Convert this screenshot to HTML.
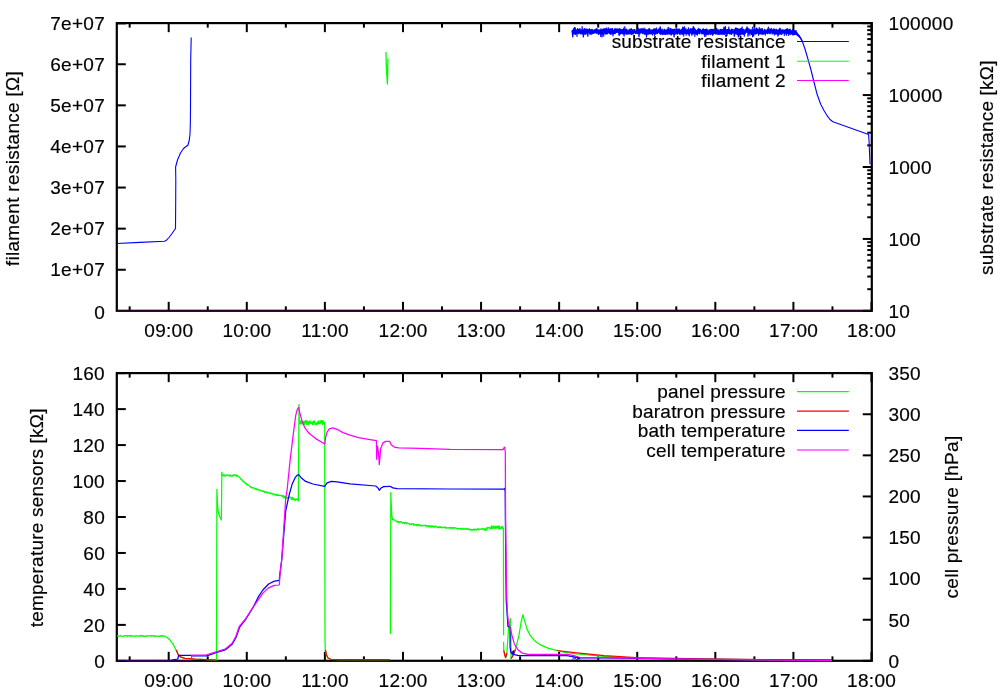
<!DOCTYPE html>
<html lang="en"><head><meta charset="utf-8"><title>measurement log</title>
<style>
html,body{margin:0;padding:0;background:#fff;}
body{width:1000px;height:700px;overflow:hidden;}
svg{display:block;}
text{font-family:"Liberation Sans",Arial,Helvetica,sans-serif;font-size:19.00px;fill:#000;stroke:#000;stroke-width:0.18px;letter-spacing:0.30px;}
.ax{stroke:#000;stroke-width:2;fill:none;stroke-linecap:butt;}
.fr{stroke:#000;stroke-width:2.2;fill:none;stroke-linejoin:miter;}
.c{fill:none;stroke-width:1.25;stroke-linejoin:round;stroke-linecap:butt;}
.g{stroke:#00ff00;}.b{stroke:#0000ff;}.m{stroke:#ff00ff;}.r{stroke:#ff0000;}
</style></head><body>
<svg width="1000" height="700" viewBox="0 0 1000 700">
<rect width="1000" height="700" fill="#fff"/>
<rect class="fr" x="116.8" y="23.1" width="755.0" height="287.7"/>
<line class="ax" x1="168.70" y1="310.85" x2="168.70" y2="301.85"/>
<line class="ax" x1="168.70" y1="23.15" x2="168.70" y2="32.15"/>
<line class="ax" x1="246.79" y1="310.85" x2="246.79" y2="301.85"/>
<line class="ax" x1="246.79" y1="23.15" x2="246.79" y2="32.15"/>
<line class="ax" x1="324.88" y1="310.85" x2="324.88" y2="301.85"/>
<line class="ax" x1="324.88" y1="23.15" x2="324.88" y2="32.15"/>
<line class="ax" x1="402.97" y1="310.85" x2="402.97" y2="301.85"/>
<line class="ax" x1="402.97" y1="23.15" x2="402.97" y2="32.15"/>
<line class="ax" x1="481.06" y1="310.85" x2="481.06" y2="301.85"/>
<line class="ax" x1="481.06" y1="23.15" x2="481.06" y2="32.15"/>
<line class="ax" x1="559.14" y1="310.85" x2="559.14" y2="301.85"/>
<line class="ax" x1="559.14" y1="23.15" x2="559.14" y2="32.15"/>
<line class="ax" x1="637.23" y1="310.85" x2="637.23" y2="301.85"/>
<line class="ax" x1="637.23" y1="23.15" x2="637.23" y2="32.15"/>
<line class="ax" x1="715.32" y1="310.85" x2="715.32" y2="301.85"/>
<line class="ax" x1="715.32" y1="23.15" x2="715.32" y2="32.15"/>
<line class="ax" x1="793.41" y1="310.85" x2="793.41" y2="301.85"/>
<line class="ax" x1="793.41" y1="23.15" x2="793.41" y2="32.15"/>
<line class="ax" x1="871.50" y1="310.85" x2="871.50" y2="301.85"/>
<line class="ax" x1="871.50" y1="23.15" x2="871.50" y2="32.15"/>
<line class="ax" x1="129.66" y1="310.85" x2="129.66" y2="306.35"/>
<line class="ax" x1="129.66" y1="23.15" x2="129.66" y2="27.65"/>
<line class="ax" x1="207.74" y1="310.85" x2="207.74" y2="306.35"/>
<line class="ax" x1="207.74" y1="23.15" x2="207.74" y2="27.65"/>
<line class="ax" x1="285.83" y1="310.85" x2="285.83" y2="306.35"/>
<line class="ax" x1="285.83" y1="23.15" x2="285.83" y2="27.65"/>
<line class="ax" x1="363.92" y1="310.85" x2="363.92" y2="306.35"/>
<line class="ax" x1="363.92" y1="23.15" x2="363.92" y2="27.65"/>
<line class="ax" x1="442.01" y1="310.85" x2="442.01" y2="306.35"/>
<line class="ax" x1="442.01" y1="23.15" x2="442.01" y2="27.65"/>
<line class="ax" x1="520.10" y1="310.85" x2="520.10" y2="306.35"/>
<line class="ax" x1="520.10" y1="23.15" x2="520.10" y2="27.65"/>
<line class="ax" x1="598.19" y1="310.85" x2="598.19" y2="306.35"/>
<line class="ax" x1="598.19" y1="23.15" x2="598.19" y2="27.65"/>
<line class="ax" x1="676.28" y1="310.85" x2="676.28" y2="306.35"/>
<line class="ax" x1="676.28" y1="23.15" x2="676.28" y2="27.65"/>
<line class="ax" x1="754.37" y1="310.85" x2="754.37" y2="306.35"/>
<line class="ax" x1="754.37" y1="23.15" x2="754.37" y2="27.65"/>
<line class="ax" x1="832.46" y1="310.85" x2="832.46" y2="306.35"/>
<line class="ax" x1="832.46" y1="23.15" x2="832.46" y2="27.65"/>
<rect class="fr" x="116.8" y="373.1" width="755.0" height="287.7"/>
<line class="ax" x1="168.70" y1="660.85" x2="168.70" y2="651.85"/>
<line class="ax" x1="168.70" y1="373.15" x2="168.70" y2="382.15"/>
<line class="ax" x1="246.79" y1="660.85" x2="246.79" y2="651.85"/>
<line class="ax" x1="246.79" y1="373.15" x2="246.79" y2="382.15"/>
<line class="ax" x1="324.88" y1="660.85" x2="324.88" y2="651.85"/>
<line class="ax" x1="324.88" y1="373.15" x2="324.88" y2="382.15"/>
<line class="ax" x1="402.97" y1="660.85" x2="402.97" y2="651.85"/>
<line class="ax" x1="402.97" y1="373.15" x2="402.97" y2="382.15"/>
<line class="ax" x1="481.06" y1="660.85" x2="481.06" y2="651.85"/>
<line class="ax" x1="481.06" y1="373.15" x2="481.06" y2="382.15"/>
<line class="ax" x1="559.14" y1="660.85" x2="559.14" y2="651.85"/>
<line class="ax" x1="559.14" y1="373.15" x2="559.14" y2="382.15"/>
<line class="ax" x1="637.23" y1="660.85" x2="637.23" y2="651.85"/>
<line class="ax" x1="637.23" y1="373.15" x2="637.23" y2="382.15"/>
<line class="ax" x1="715.32" y1="660.85" x2="715.32" y2="651.85"/>
<line class="ax" x1="715.32" y1="373.15" x2="715.32" y2="382.15"/>
<line class="ax" x1="793.41" y1="660.85" x2="793.41" y2="651.85"/>
<line class="ax" x1="793.41" y1="373.15" x2="793.41" y2="382.15"/>
<line class="ax" x1="871.50" y1="660.85" x2="871.50" y2="651.85"/>
<line class="ax" x1="871.50" y1="373.15" x2="871.50" y2="382.15"/>
<line class="ax" x1="129.66" y1="660.85" x2="129.66" y2="656.35"/>
<line class="ax" x1="129.66" y1="373.15" x2="129.66" y2="377.65"/>
<line class="ax" x1="207.74" y1="660.85" x2="207.74" y2="656.35"/>
<line class="ax" x1="207.74" y1="373.15" x2="207.74" y2="377.65"/>
<line class="ax" x1="285.83" y1="660.85" x2="285.83" y2="656.35"/>
<line class="ax" x1="285.83" y1="373.15" x2="285.83" y2="377.65"/>
<line class="ax" x1="363.92" y1="660.85" x2="363.92" y2="656.35"/>
<line class="ax" x1="363.92" y1="373.15" x2="363.92" y2="377.65"/>
<line class="ax" x1="442.01" y1="660.85" x2="442.01" y2="656.35"/>
<line class="ax" x1="442.01" y1="373.15" x2="442.01" y2="377.65"/>
<line class="ax" x1="520.10" y1="660.85" x2="520.10" y2="656.35"/>
<line class="ax" x1="520.10" y1="373.15" x2="520.10" y2="377.65"/>
<line class="ax" x1="598.19" y1="660.85" x2="598.19" y2="656.35"/>
<line class="ax" x1="598.19" y1="373.15" x2="598.19" y2="377.65"/>
<line class="ax" x1="676.28" y1="660.85" x2="676.28" y2="656.35"/>
<line class="ax" x1="676.28" y1="373.15" x2="676.28" y2="377.65"/>
<line class="ax" x1="754.37" y1="660.85" x2="754.37" y2="656.35"/>
<line class="ax" x1="754.37" y1="373.15" x2="754.37" y2="377.65"/>
<line class="ax" x1="832.46" y1="660.85" x2="832.46" y2="656.35"/>
<line class="ax" x1="832.46" y1="373.15" x2="832.46" y2="377.65"/>
<text x="168.8" y="337.0" text-anchor="middle">09:00</text>
<text x="246.9" y="337.0" text-anchor="middle">10:00</text>
<text x="325.0" y="337.0" text-anchor="middle">11:00</text>
<text x="403.1" y="337.0" text-anchor="middle">12:00</text>
<text x="481.2" y="337.0" text-anchor="middle">13:00</text>
<text x="559.3" y="337.0" text-anchor="middle">14:00</text>
<text x="637.4" y="337.0" text-anchor="middle">15:00</text>
<text x="715.5" y="337.0" text-anchor="middle">16:00</text>
<text x="793.6" y="337.0" text-anchor="middle">17:00</text>
<text x="871.6" y="337.0" text-anchor="middle">18:00</text>
<text x="168.8" y="686.8" text-anchor="middle">09:00</text>
<text x="246.9" y="686.8" text-anchor="middle">10:00</text>
<text x="325.0" y="686.8" text-anchor="middle">11:00</text>
<text x="403.1" y="686.8" text-anchor="middle">12:00</text>
<text x="481.2" y="686.8" text-anchor="middle">13:00</text>
<text x="559.3" y="686.8" text-anchor="middle">14:00</text>
<text x="637.4" y="686.8" text-anchor="middle">15:00</text>
<text x="715.5" y="686.8" text-anchor="middle">16:00</text>
<text x="793.6" y="686.8" text-anchor="middle">17:00</text>
<text x="871.6" y="686.8" text-anchor="middle">18:00</text>
<text x="105.1" y="318.6" text-anchor="end">0</text>
<line class="ax" x1="116.80" y1="269.75" x2="125.80" y2="269.75"/>
<text x="105.1" y="276.4" text-anchor="end">1e+07</text>
<line class="ax" x1="116.80" y1="228.65" x2="125.80" y2="228.65"/>
<text x="105.1" y="235.3" text-anchor="end">2e+07</text>
<line class="ax" x1="116.80" y1="187.55" x2="125.80" y2="187.55"/>
<text x="105.1" y="194.2" text-anchor="end">3e+07</text>
<line class="ax" x1="116.80" y1="146.45" x2="125.80" y2="146.45"/>
<text x="105.1" y="153.1" text-anchor="end">4e+07</text>
<line class="ax" x1="116.80" y1="105.35" x2="125.80" y2="105.35"/>
<text x="105.1" y="112.0" text-anchor="end">5e+07</text>
<line class="ax" x1="116.80" y1="64.25" x2="125.80" y2="64.25"/>
<text x="105.1" y="70.9" text-anchor="end">6e+07</text>
<line class="ax" x1="116.80" y1="23.40" x2="125.80" y2="23.40"/>
<text x="105.1" y="29.8" text-anchor="end">7e+07</text>
<line class="ax" x1="871.75" y1="310.85" x2="862.75" y2="310.85"/>
<text x="888.4" y="317.7">10</text>
<line class="ax" x1="871.75" y1="289.20" x2="867.25" y2="289.20"/>
<line class="ax" x1="871.75" y1="276.53" x2="867.25" y2="276.53"/>
<line class="ax" x1="871.75" y1="267.55" x2="867.25" y2="267.55"/>
<line class="ax" x1="871.75" y1="260.58" x2="867.25" y2="260.58"/>
<line class="ax" x1="871.75" y1="254.88" x2="867.25" y2="254.88"/>
<line class="ax" x1="871.75" y1="250.07" x2="867.25" y2="250.07"/>
<line class="ax" x1="871.75" y1="245.90" x2="867.25" y2="245.90"/>
<line class="ax" x1="871.75" y1="242.22" x2="867.25" y2="242.22"/>
<line class="ax" x1="871.75" y1="238.93" x2="862.75" y2="238.93"/>
<text x="888.4" y="245.7">100</text>
<line class="ax" x1="871.75" y1="217.27" x2="867.25" y2="217.27"/>
<line class="ax" x1="871.75" y1="204.61" x2="867.25" y2="204.61"/>
<line class="ax" x1="871.75" y1="195.62" x2="867.25" y2="195.62"/>
<line class="ax" x1="871.75" y1="188.65" x2="867.25" y2="188.65"/>
<line class="ax" x1="871.75" y1="182.96" x2="867.25" y2="182.96"/>
<line class="ax" x1="871.75" y1="178.14" x2="867.25" y2="178.14"/>
<line class="ax" x1="871.75" y1="173.97" x2="867.25" y2="173.97"/>
<line class="ax" x1="871.75" y1="170.29" x2="867.25" y2="170.29"/>
<line class="ax" x1="871.75" y1="167.00" x2="862.75" y2="167.00"/>
<text x="888.4" y="173.8">1000</text>
<line class="ax" x1="871.75" y1="145.35" x2="867.25" y2="145.35"/>
<line class="ax" x1="871.75" y1="132.68" x2="867.25" y2="132.68"/>
<line class="ax" x1="871.75" y1="123.70" x2="867.25" y2="123.70"/>
<line class="ax" x1="871.75" y1="116.73" x2="867.25" y2="116.73"/>
<line class="ax" x1="871.75" y1="111.03" x2="867.25" y2="111.03"/>
<line class="ax" x1="871.75" y1="106.22" x2="867.25" y2="106.22"/>
<line class="ax" x1="871.75" y1="102.05" x2="867.25" y2="102.05"/>
<line class="ax" x1="871.75" y1="98.37" x2="867.25" y2="98.37"/>
<line class="ax" x1="871.75" y1="95.07" x2="862.75" y2="95.07"/>
<text x="888.4" y="101.9">10000</text>
<line class="ax" x1="871.75" y1="73.42" x2="867.25" y2="73.42"/>
<line class="ax" x1="871.75" y1="60.76" x2="867.25" y2="60.76"/>
<line class="ax" x1="871.75" y1="51.77" x2="867.25" y2="51.77"/>
<line class="ax" x1="871.75" y1="44.80" x2="867.25" y2="44.80"/>
<line class="ax" x1="871.75" y1="39.11" x2="867.25" y2="39.11"/>
<line class="ax" x1="871.75" y1="34.29" x2="867.25" y2="34.29"/>
<line class="ax" x1="871.75" y1="30.12" x2="867.25" y2="30.12"/>
<line class="ax" x1="871.75" y1="26.44" x2="867.25" y2="26.44"/>
<line class="ax" x1="871.75" y1="23.15" x2="862.75" y2="23.15"/>
<text x="888.4" y="29.9">100000</text>
<line class="ax" x1="116.80" y1="660.85" x2="125.80" y2="660.85"/>
<text x="105.0" y="667.6" text-anchor="end">0</text>
<line class="ax" x1="116.80" y1="624.89" x2="125.80" y2="624.89"/>
<text x="105.0" y="631.7" text-anchor="end">20</text>
<line class="ax" x1="116.80" y1="588.92" x2="125.80" y2="588.92"/>
<text x="105.0" y="595.7" text-anchor="end">40</text>
<line class="ax" x1="116.80" y1="552.96" x2="125.80" y2="552.96"/>
<text x="105.0" y="559.8" text-anchor="end">60</text>
<line class="ax" x1="116.80" y1="517.00" x2="125.80" y2="517.00"/>
<text x="105.0" y="523.8" text-anchor="end">80</text>
<line class="ax" x1="116.80" y1="481.04" x2="125.80" y2="481.04"/>
<text x="105.0" y="487.8" text-anchor="end">100</text>
<line class="ax" x1="116.80" y1="445.07" x2="125.80" y2="445.07"/>
<text x="105.0" y="451.9" text-anchor="end">120</text>
<line class="ax" x1="116.80" y1="409.11" x2="125.80" y2="409.11"/>
<text x="105.0" y="415.9" text-anchor="end">140</text>
<line class="ax" x1="116.80" y1="373.15" x2="125.80" y2="373.15"/>
<text x="105.0" y="379.9" text-anchor="end">160</text>
<line class="ax" x1="871.75" y1="660.85" x2="862.75" y2="660.85"/>
<text x="888.4" y="667.6">0</text>
<line class="ax" x1="871.75" y1="619.75" x2="862.75" y2="619.75"/>
<text x="888.4" y="626.5">50</text>
<line class="ax" x1="871.75" y1="578.65" x2="862.75" y2="578.65"/>
<text x="888.4" y="585.4">100</text>
<line class="ax" x1="871.75" y1="537.55" x2="862.75" y2="537.55"/>
<text x="888.4" y="544.3">150</text>
<line class="ax" x1="871.75" y1="496.45" x2="862.75" y2="496.45"/>
<text x="888.4" y="503.2">200</text>
<line class="ax" x1="871.75" y1="455.35" x2="862.75" y2="455.35"/>
<text x="888.4" y="462.2">250</text>
<line class="ax" x1="871.75" y1="414.25" x2="862.75" y2="414.25"/>
<text x="888.4" y="421.1">300</text>
<line class="ax" x1="871.75" y1="373.15" x2="862.75" y2="373.15"/>
<text x="888.4" y="379.9">350</text>
<polyline class="c b" style="stroke-width:1.1" points="117.0,243.5 140.0,242.4 164.5,241.2 166.5,240.2 169.0,237.5 172.0,233.5 175.5,228.5 175.7,200.0 175.8,180.0 175.6,167.0 177.5,160.0 180.5,153.0 183.5,148.5 188.0,145.0 189.3,140.0 190.0,134.0 190.3,125.0 190.5,110.0 190.7,60.0 191.2,37.5"/>
<polyline class="c m" style="opacity:0.15" points="117.5,310.3 871.0,310.3"/>
<polyline class="c g" style="stroke-width:1.3" points="385.9,52.0 386.2,62.0 386.7,74.0 387.4,84.0 387.7,70.0 387.9,58.5"/>
<polyline class="c b" style="stroke-width:1.25" points="572.0,32.1 572.3,30.5 572.5,34.4 572.8,36.8 573.1,30.0 573.3,30.6 573.6,33.8 573.9,28.7 574.2,31.1 574.4,32.0 574.7,28.6 575.0,27.7 575.2,31.8 575.5,34.2 575.8,33.3 576.0,31.1 576.3,33.3 576.6,33.4 576.9,32.3 577.1,29.4 577.4,32.1 577.7,28.7 577.9,29.5 578.2,31.0 578.5,29.6 578.7,30.2 579.0,30.0 579.3,32.1 579.6,32.4 579.8,28.7 580.1,29.0 580.4,31.4 580.6,32.1 580.9,31.7 581.2,32.9 581.4,30.1 581.7,33.1 582.0,31.8 582.3,30.1 582.5,33.9 582.8,30.5 583.1,29.1 583.3,36.9 583.6,33.8 583.9,30.8 584.1,33.0 584.4,30.5 584.7,28.8 585.0,34.4 585.2,31.8 585.5,29.4 585.8,34.0 586.0,31.5 586.3,32.5 586.6,29.5 586.8,32.4 587.1,29.3 587.4,29.5 587.7,34.4 587.9,36.1 588.2,29.6 588.5,31.7 588.7,30.4 589.0,31.3 589.3,31.0 589.5,28.9 589.8,31.3 590.1,34.3 590.4,33.8 590.6,30.0 590.9,32.4 591.2,30.5 591.4,29.5 591.7,32.9 592.0,33.6 592.2,29.4 592.5,33.5 592.8,32.6 593.1,30.9 593.3,33.0 593.6,32.1 593.9,30.7 594.1,30.2 594.4,32.6 594.7,30.6 594.9,29.6 595.2,29.4 595.5,29.9 595.8,30.5 596.0,29.6 596.3,28.6 596.6,32.2 596.8,31.5 597.1,32.9 597.4,32.0 597.6,31.8 597.9,32.3 598.2,33.5 598.5,33.8 598.7,34.0 599.0,33.7 599.3,31.7 599.5,30.0 599.8,30.1 600.1,33.9 600.3,33.7 600.6,32.7 600.9,28.9 601.2,32.2 601.4,30.1 601.7,34.3 602.0,36.9 602.2,34.3 602.5,34.3 602.8,31.6 603.0,29.6 603.3,31.1 603.6,31.1 603.9,29.8 604.1,33.6 604.4,31.6 604.7,30.5 604.9,29.0 605.2,32.4 605.5,28.7 605.7,33.9 606.0,32.1 606.3,33.6 606.6,30.9 606.8,30.7 607.1,29.6 607.4,31.1 607.6,31.7 607.9,29.2 608.2,29.4 608.4,29.6 608.7,29.0 609.0,30.7 609.3,29.0 609.5,30.4 609.8,33.6 610.1,31.4 610.3,32.4 610.6,31.9 610.9,34.3 611.1,32.2 611.4,33.1 611.7,30.9 612.0,28.9 612.2,33.5 612.5,28.6 612.8,33.3 613.0,35.8 613.3,31.0 613.6,31.6 613.8,31.2 614.1,32.4 614.4,33.3 614.7,30.6 614.9,28.8 615.2,30.0 615.5,31.9 615.7,28.8 616.0,30.2 616.3,29.4 616.5,29.1 616.8,32.2 617.1,29.0 617.4,32.1 617.6,31.5 617.9,28.9 618.2,29.2 618.4,30.0 618.7,33.7 619.0,33.7 619.2,35.4 619.5,34.2 619.8,28.6 620.1,31.7 620.3,34.0 620.6,29.7 620.9,30.4 621.1,32.4 621.4,33.3 621.7,29.7 621.9,30.9 622.2,29.5 622.5,33.9 622.8,33.3 623.0,32.8 623.3,29.9 623.6,29.6 623.8,30.5 624.1,36.0 624.4,32.4 624.6,33.1 624.9,31.4 625.2,29.4 625.5,32.1 625.7,31.2 626.0,34.3 626.3,29.4 626.5,29.7 626.8,29.2 627.1,33.9 627.3,31.5 627.6,33.4 627.9,32.9 628.2,33.1 628.4,30.5 628.7,33.6 629.0,33.4 629.2,33.3 629.5,29.9 629.8,33.2 630.0,29.0 630.3,32.3 630.6,33.3 630.9,30.4 631.1,31.5 631.4,31.0 631.7,30.7 631.9,32.1 632.2,33.8 632.5,29.8 632.7,30.7 633.0,32.9 633.3,32.7 633.6,33.6 633.8,30.8 634.1,31.2 634.4,30.4 634.6,29.7 634.9,32.1 635.2,31.9 635.4,31.5 635.7,31.7 636.0,33.5 636.3,33.1 636.5,31.9 636.8,33.1 637.1,30.2 637.3,32.8 637.6,32.3 637.9,31.7 638.1,31.3 638.4,31.9 638.7,30.8 639.0,36.6 639.2,33.1 639.5,33.3 639.8,29.2 640.0,33.6 640.3,29.6 640.6,32.2 640.8,30.3 641.1,28.6 641.4,30.9 641.7,31.3 641.9,31.0 642.2,28.8 642.5,31.4 642.7,28.8 643.0,29.3 643.3,32.6 643.5,32.8 643.8,33.0 644.1,34.1 644.4,30.3 644.6,34.0 644.9,31.3 645.2,29.8 645.4,33.1 645.7,29.2 646.0,31.9 646.2,31.0 646.5,37.0 646.8,31.3 647.1,31.9 647.3,34.1 647.6,30.8 647.9,33.8 648.1,34.1 648.4,29.7 648.7,29.0 648.9,32.9 649.2,31.0 649.5,28.7 649.8,30.4 650.0,34.0 650.3,31.6 650.6,32.4 650.8,30.4 651.1,32.4 651.4,32.9 651.6,33.7 651.9,31.0 652.2,33.5 652.5,34.9 652.7,32.3 653.0,33.3 653.3,30.3 653.5,31.3 653.8,28.8 654.1,29.5 654.3,31.4 654.6,32.4 654.9,32.7 655.2,30.2 655.4,29.1 655.7,34.2 656.0,31.6 656.2,32.2 656.5,30.0 656.8,31.9 657.0,32.4 657.3,31.2 657.6,30.9 657.9,31.3 658.1,29.6 658.4,30.0 658.7,31.3 658.9,29.3 659.2,33.0 659.5,31.4 659.7,30.5 660.0,31.3 660.3,26.8 660.6,34.2 660.8,33.3 661.1,30.4 661.4,30.0 661.6,30.2 661.9,34.1 662.2,29.0 662.4,33.9 662.7,34.5 663.0,32.4 663.3,34.0 663.5,32.0 663.8,33.8 664.1,34.1 664.3,30.7 664.6,30.6 664.9,33.9 665.1,30.9 665.4,34.3 665.7,34.1 666.0,33.9 666.2,34.0 666.5,33.3 666.8,30.7 667.0,30.7 667.3,34.0 667.6,34.1 667.8,31.7 668.1,33.4 668.4,33.6 668.7,32.0 668.9,32.7 669.2,29.8 669.5,34.0 669.7,30.5 670.0,34.1 670.3,30.6 670.5,31.0 670.8,28.7 671.1,29.7 671.4,34.1 671.6,30.3 671.9,33.6 672.2,31.9 672.4,33.8 672.7,30.5 673.0,33.9 673.2,29.4 673.5,34.2 673.8,31.2 674.1,36.9 674.3,34.3 674.6,33.7 674.9,32.0 675.1,34.0 675.4,32.7 675.7,33.3 675.9,33.2 676.2,28.2 676.5,30.1 676.8,29.3 677.0,33.5 677.3,34.2 677.6,30.0 677.8,32.3 678.1,28.9 678.4,31.0 678.6,31.0 678.9,29.7 679.2,32.7 679.5,31.9 679.7,34.3 680.0,31.8 680.3,32.2 680.5,30.0 680.8,34.2 681.1,33.3 681.3,29.9 681.6,29.9 681.9,29.6 682.2,28.7 682.4,34.3 682.7,34.0 683.0,29.7 683.2,30.1 683.5,27.7 683.8,33.4 684.0,33.3 684.3,29.5 684.6,28.8 684.9,31.9 685.1,33.0 685.4,32.5 685.7,30.9 685.9,28.6 686.2,32.7 686.5,30.0 686.7,31.6 687.0,32.4 687.3,33.5 687.6,31.2 687.8,30.8 688.1,31.3 688.4,34.1 688.6,34.0 688.9,30.7 689.2,35.8 689.4,32.4 689.7,32.6 690.0,30.7 690.3,31.2 690.5,29.6 690.8,33.2 691.1,29.0 691.3,32.2 691.6,31.6 691.9,31.3 692.1,33.9 692.4,28.8 692.7,33.4 693.0,31.7 693.2,26.9 693.5,30.0 693.8,30.5 694.0,30.0 694.3,28.1 694.6,31.9 694.8,31.8 695.1,31.4 695.4,29.4 695.7,32.8 695.9,33.9 696.2,30.4 696.5,31.0 696.7,34.3 697.0,32.5 697.3,34.0 697.5,32.7 697.8,30.8 698.1,30.5 698.4,28.9 698.6,29.2 698.9,28.3 699.2,30.8 699.4,31.5 699.7,30.4 700.0,30.7 700.2,30.7 700.5,30.9 700.8,32.1 701.1,31.8 701.3,30.5 701.6,31.5 701.9,33.9 702.1,33.9 702.4,33.1 702.7,29.5 702.9,30.7 703.2,28.9 703.5,33.3 703.8,30.6 704.0,30.2 704.3,30.7 704.6,34.5 704.8,31.0 705.1,30.6 705.4,33.6 705.6,30.0 705.9,36.0 706.2,30.8 706.5,30.3 706.7,30.7 707.0,34.0 707.3,30.0 707.5,32.3 707.8,31.8 708.1,33.7 708.3,34.7 708.6,34.3 708.9,32.4 709.2,31.3 709.4,31.7 709.7,33.6 710.0,31.2 710.2,29.7 710.5,34.2 710.8,33.2 711.0,30.8 711.3,29.5 711.6,31.9 711.9,30.5 712.1,34.0 712.4,30.4 712.7,32.9 712.9,31.2 713.2,29.3 713.5,34.1 713.7,29.7 714.0,30.7 714.3,31.9 714.6,32.7 714.8,32.0 715.1,31.8 715.4,33.0 715.6,33.8 715.9,31.8 716.2,30.6 716.4,33.8 716.7,29.5 717.0,29.0 717.3,33.3 717.5,33.5 717.8,32.1 718.1,31.2 718.3,34.4 718.6,33.3 718.9,29.6 719.1,29.9 719.4,31.8 719.7,34.3 720.0,31.9 720.2,34.0 720.5,33.1 720.8,34.0 721.0,30.5 721.3,33.6 721.6,34.2 721.8,29.4 722.1,31.8 722.4,31.4 722.7,30.0 722.9,34.3 723.2,32.5 723.5,28.7 723.7,32.1 724.0,27.2 724.3,34.1 724.5,31.5 724.8,31.5 725.1,29.5 725.4,26.6 725.6,30.1 725.9,32.4 726.2,33.6 726.4,29.8 726.7,32.2 727.0,31.2 727.2,31.5 727.5,32.0 727.8,29.4 728.1,30.9 728.3,33.5 728.6,29.5 728.9,29.3 729.1,30.2 729.4,30.3 729.7,33.8 729.9,31.5 730.2,31.4 730.5,31.4 730.8,30.8 731.0,30.0 731.3,34.4 731.6,30.8 731.8,32.4 732.1,33.8 732.4,31.0 732.6,31.2 732.9,32.3 733.2,32.6 733.5,32.6 733.7,32.1 734.0,33.2 734.3,36.3 734.5,35.3 734.8,29.2 735.1,29.7 735.3,33.5 735.6,28.4 735.9,27.9 736.2,34.3 736.4,32.5 736.7,28.6 737.0,33.3 737.2,29.8 737.5,28.9 737.8,29.8 738.0,34.4 738.3,36.9 738.6,34.3 738.9,28.8 739.1,30.7 739.4,29.3 739.7,34.4 739.9,33.4 740.2,29.1 740.5,28.7 740.7,34.0 741.0,30.9 741.3,30.6 741.6,28.7 741.8,34.2 742.1,27.0 742.4,34.1 742.6,29.2 742.9,29.6 743.2,29.6 743.4,31.6 743.7,34.3 744.0,30.7 744.3,33.4 744.5,33.9 744.8,31.5 745.1,30.2 745.3,32.5 745.6,29.4 745.9,31.7 746.1,28.7 746.4,31.3 746.7,31.8 747.0,26.8 747.2,27.4 747.5,29.9 747.8,31.1 748.0,36.2 748.3,32.9 748.6,29.9 748.8,28.7 749.1,32.0 749.4,30.6 749.7,31.5 749.9,35.2 750.2,32.1 750.5,32.9 750.7,30.4 751.0,31.2 751.3,29.8 751.5,31.9 751.8,34.3 752.1,31.7 752.4,31.3 752.6,36.7 752.9,30.1 753.2,30.6 753.4,32.9 753.7,35.9 754.0,33.5 754.2,33.4 754.5,30.9 754.8,31.7 755.1,31.0 755.3,34.0 755.6,29.3 755.9,30.2 756.1,29.3 756.4,33.6 756.7,31.2 756.9,28.7 757.2,29.7 757.5,31.5 757.8,32.9 758.0,33.3 758.3,29.7 758.6,31.4 758.8,30.7 759.1,33.9 759.4,31.3 759.6,33.5 759.9,33.3 760.2,29.7 760.5,29.1 760.7,29.0 761.0,29.1 761.3,34.0 761.5,28.9 761.8,32.1 762.1,33.0 762.3,28.7 762.6,34.1 762.9,32.6 763.2,32.0 763.4,31.0 763.7,34.1 764.0,32.3 764.2,32.1 764.5,30.2 764.8,30.1 765.0,30.6 765.3,33.7 765.6,33.5 765.9,33.2 766.1,31.0 766.4,30.4 766.7,32.3 766.9,30.8 767.2,30.5 767.5,28.9 767.7,33.6 768.0,29.8 768.3,30.7 768.6,29.6 768.8,32.3 769.1,33.2 769.4,31.8 769.6,32.8 769.9,28.7 770.2,29.7 770.4,30.1 770.7,29.8 771.0,32.1 771.3,32.0 771.5,28.6 771.8,30.9 772.1,34.0 772.3,31.2 772.6,33.1 772.9,31.6 773.1,31.1 773.4,32.9 773.7,29.0 774.0,33.5 774.2,33.0 774.5,33.4 774.8,29.2 775.0,32.3 775.3,30.5 775.6,31.7 775.8,34.0 776.1,31.5 776.4,31.6 776.7,32.5 776.9,32.9 777.2,34.3 777.5,34.3 777.7,34.1 778.0,36.1 778.3,34.8 778.5,31.4 778.8,29.6 779.1,31.3 779.4,29.5 779.6,29.0 779.9,34.3 780.2,33.9 780.4,32.1 780.7,32.0 781.0,33.1 781.2,31.3 781.5,30.4 781.8,32.2 782.1,29.3 782.3,32.6 782.6,31.6 782.9,32.9 783.1,31.6 783.4,31.4 783.7,32.1 783.9,30.2 784.2,32.0 784.5,30.6 784.8,30.4 785.0,30.0 785.3,31.3 785.6,30.0 785.8,31.5 786.1,33.3 786.4,35.1 786.6,32.1 786.9,30.0 787.2,29.3 787.5,28.7 787.7,33.5 788.0,29.8 788.3,31.1 788.5,33.4 788.8,30.0 789.1,31.7 789.3,32.7 789.6,30.7 789.9,29.2 790.2,34.4 790.4,29.6 790.7,31.6 791.0,31.2 791.2,32.2 791.5,31.0 791.8,32.8 792.0,34.0 792.3,32.1 792.6,29.9 792.9,35.0 793.1,30.1 793.4,32.4 793.7,34.7 793.9,34.8 794.2,32.9 794.5,32.2 794.7,31.4 795.0,31.9 795.3,33.0 795.6,32.9 795.8,31.2 796.1,32.5 796.4,33.4 796.6,33.6 796.9,32.7 797.2,33.5 797.4,33.7 797.7,35.5 798.0,35.0 798.3,36.0 798.5,36.1 798.8,36.3 799.1,36.8 799.3,36.0 799.6,37.1 799.9,36.8 800.1,37.6 800.4,37.9 800.7,38.3 801.0,38.9 801.2,39.3 801.5,39.8 801.8,40.4 802.0,41.0 802.3,41.6"/>
<polyline class="c b" style="stroke-width:1.25" points="572.1,33.3 572.4,32.4 572.7,30.8 573.0,31.7 573.3,32.6 573.6,32.2 574.0,31.6 574.3,30.5 574.6,33.9 574.9,31.3 575.2,29.9 575.5,34.3 575.8,30.8 576.1,32.9 576.4,31.8 576.7,32.4 577.1,32.7 577.4,29.1 577.7,29.3 578.0,33.5 578.3,33.7 578.6,32.6 578.9,33.0 579.2,32.8 579.5,31.1 579.8,29.8 580.2,33.8 580.5,31.4 580.8,31.8 581.1,30.6 581.4,33.8 581.7,30.3 582.0,30.9 582.3,30.0 582.6,31.1 582.9,30.0 583.3,31.2 583.6,32.3 583.9,30.6 584.2,31.5 584.5,30.9 584.8,30.9 585.1,31.7 585.4,32.5 585.7,31.4 586.0,31.5 586.4,29.1 586.7,30.8 587.0,33.9 587.3,30.2 587.6,32.5 587.9,29.3 588.2,31.7 588.5,31.4 588.8,32.1 589.1,32.8 589.5,29.2 589.8,33.7 590.1,32.7 590.4,33.4 590.7,33.2 591.0,32.3 591.3,31.3 591.6,29.8 591.9,32.6 592.2,32.8 592.6,31.2 592.9,30.2 593.2,31.2 593.5,33.0 593.8,33.0 594.1,32.8 594.4,30.9 594.7,30.7 595.0,32.9 595.3,30.7 595.7,30.7 596.0,32.9 596.3,31.6 596.6,33.2 596.9,31.6 597.2,29.2 597.5,31.5 597.8,32.2 598.1,29.8 598.4,34.1 598.8,30.1 599.1,31.8 599.4,30.7 599.7,31.4 600.0,30.3 600.3,31.7 600.6,30.7 600.9,30.9 601.2,32.7 601.5,32.8 601.9,29.8 602.2,32.9 602.5,29.8 602.8,30.3 603.1,31.8 603.4,32.0 603.7,31.6 604.0,32.6 604.3,32.0 604.6,29.1 605.0,29.4 605.3,33.6 605.6,29.9 605.9,31.8 606.2,33.8 606.5,30.8 606.8,30.3 607.1,31.2 607.4,33.8 607.7,29.8 608.1,31.1 608.4,30.4 608.7,33.0 609.0,32.2 609.3,32.9 609.6,29.6 609.9,31.2 610.2,29.9 610.5,33.8 610.8,28.7 611.2,31.2 611.5,29.5 611.8,30.5 612.1,29.1 612.4,33.3 612.7,31.2 613.0,30.3 613.3,33.7 613.6,31.1 613.9,33.4 614.3,29.6 614.6,31.9 614.9,29.1 615.2,33.6 615.5,32.6 615.8,29.9 616.1,32.5 616.4,31.9 616.7,32.1 617.0,29.3 617.4,29.8 617.7,31.2 618.0,31.3 618.3,30.5 618.6,29.7 618.9,29.7 619.2,33.9 619.5,32.9 619.8,32.4 620.1,29.2 620.5,30.5 620.8,33.0 621.1,32.3 621.4,31.6 621.7,31.0 622.0,32.6 622.3,31.0 622.6,31.2 622.9,30.7 623.2,31.2 623.6,33.8 623.9,29.4 624.2,31.3 624.5,32.9 624.8,32.9 625.1,30.7 625.4,30.6 625.7,31.4 626.0,31.9 626.3,32.6 626.7,32.1 627.0,33.3 627.3,31.9 627.6,33.5 627.9,34.2 628.2,30.1 628.5,30.8 628.8,31.8 629.1,31.2 629.4,33.7 629.8,33.6 630.1,34.1 630.4,30.5 630.7,30.3 631.0,29.2 631.3,28.7 631.6,29.7 631.9,32.9 632.2,33.9 632.5,30.9 632.9,30.1 633.2,33.8 633.5,29.8 633.8,31.7 634.1,32.6 634.4,32.1 634.7,29.6 635.0,32.8 635.3,32.1 635.6,33.2 636.0,33.5 636.3,31.6 636.6,32.2 636.9,31.4 637.2,30.5 637.5,31.3 637.8,33.7 638.1,32.8 638.4,30.7 638.7,29.3 639.1,33.6 639.4,31.6 639.7,32.1 640.0,29.6 640.3,31.5 640.6,31.6 640.9,31.9 641.2,29.8 641.5,32.7 641.8,31.3 642.2,31.3 642.5,33.5 642.8,32.8 643.1,29.6 643.4,31.1 643.7,30.0 644.0,31.5 644.3,33.7 644.6,29.5 644.9,29.9 645.3,34.3 645.6,29.8 645.9,32.0 646.2,29.8 646.5,32.3 646.8,33.5 647.1,33.1 647.4,31.6 647.7,29.8 648.0,29.7 648.4,30.0 648.7,29.9 649.0,32.6 649.3,33.4 649.6,31.8 649.9,30.8 650.2,33.3 650.5,30.1 650.8,33.7 651.1,32.8 651.5,32.9 651.8,31.8 652.1,29.5 652.4,30.0 652.7,30.8 653.0,33.0 653.3,32.8 653.6,30.6 653.9,33.4 654.2,33.4 654.6,31.0 654.9,29.5 655.2,29.3 655.5,32.7 655.8,33.7 656.1,30.8 656.4,29.7 656.7,33.0 657.0,30.2 657.3,33.6 657.7,32.3 658.0,30.4 658.3,32.2 658.6,29.2 658.9,32.4 659.2,29.4 659.5,30.4 659.8,33.5 660.1,33.8 660.4,31.2 660.8,30.3 661.1,30.8 661.4,31.9 661.7,30.9 662.0,32.2 662.3,33.2 662.6,34.3 662.9,31.8 663.2,32.3 663.5,32.8 663.9,30.3 664.2,29.1 664.5,30.1 664.8,31.6 665.1,29.8 665.4,31.7 665.7,33.1 666.0,30.6 666.3,33.6 666.6,33.9 667.0,29.2 667.3,29.7 667.6,29.6 667.9,30.1 668.2,33.8 668.5,29.9 668.8,29.7 669.1,31.0 669.4,32.2 669.7,32.0 670.1,32.8 670.4,33.1 670.7,28.7 671.0,33.3 671.3,32.9 671.6,32.6 671.9,31.2 672.2,29.3 672.5,33.0 672.8,30.8 673.2,29.5 673.5,33.3 673.8,33.3 674.1,33.0 674.4,30.0 674.7,29.2 675.0,29.2 675.3,33.0 675.6,31.9 675.9,32.7 676.3,31.9 676.6,30.3 676.9,30.3 677.2,33.9 677.5,32.1 677.8,32.7 678.1,33.3 678.4,32.4 678.7,33.1 679.0,33.2 679.4,29.1 679.7,32.4 680.0,32.9 680.3,31.5 680.6,31.4 680.9,32.9 681.2,32.0 681.5,33.4 681.8,30.2 682.1,31.2 682.5,33.4 682.8,32.4 683.1,31.6 683.4,31.4 683.7,29.9 684.0,32.1 684.3,31.4 684.6,32.1 684.9,33.5 685.2,31.6 685.6,29.5 685.9,33.4 686.2,33.8 686.5,31.8 686.8,31.3 687.1,33.5 687.4,33.2 687.7,29.7 688.0,31.8 688.3,30.1 688.7,29.9 689.0,33.2 689.3,30.8 689.6,33.4 689.9,29.2 690.2,29.4 690.5,29.7 690.8,28.7 691.1,32.5 691.4,32.8 691.8,30.7 692.1,29.8 692.4,31.7 692.7,31.8 693.0,34.1 693.3,33.5 693.6,31.3 693.9,32.8 694.2,32.7 694.5,32.8 694.9,32.0 695.2,33.7 695.5,32.2 695.8,31.1 696.1,31.9 696.4,31.3 696.7,32.2 697.0,33.5 697.3,33.4 697.6,29.5 698.0,32.9 698.3,32.8 698.6,33.4 698.9,30.6 699.2,29.6 699.5,31.7 699.8,33.9 700.1,32.1 700.4,29.4 700.7,29.7 701.1,30.5 701.4,31.3 701.7,31.6 702.0,33.5 702.3,32.3 702.6,31.2 702.9,32.8 703.2,29.1 703.5,29.4 703.8,34.1 704.2,29.9 704.5,31.8 704.8,30.7 705.1,29.3 705.4,29.8 705.7,31.7 706.0,30.7 706.3,29.1 706.6,31.1 706.9,29.4 707.3,31.1 707.6,33.3 707.9,32.8 708.2,34.4 708.5,31.0 708.8,32.3 709.1,29.7 709.4,30.9 709.7,32.4 710.0,32.9 710.4,34.2 710.7,33.8 711.0,29.4 711.3,33.7 711.6,29.6 711.9,32.2 712.2,32.1 712.5,30.7 712.8,29.3 713.1,29.5 713.5,29.8 713.8,30.2 714.1,30.9 714.4,31.5 714.7,33.3 715.0,29.6 715.3,33.5 715.6,33.7 715.9,32.4 716.2,32.7 716.6,32.7 716.9,32.0 717.2,31.7 717.5,30.2 717.8,30.1 718.1,33.4 718.4,31.2 718.7,33.3 719.0,33.1 719.3,32.3 719.7,32.0 720.0,32.5 720.3,33.1 720.6,29.4 720.9,30.1 721.2,31.4 721.5,33.1 721.8,30.0 722.1,30.3 722.4,32.8 722.8,30.1 723.1,33.9 723.4,30.3 723.7,31.1 724.0,32.0 724.3,32.0 724.6,31.3 724.9,29.2 725.2,33.4 725.5,33.5 725.9,31.8 726.2,33.1 726.5,30.0 726.8,32.7 727.1,33.3 727.4,31.0 727.7,30.6 728.0,29.7 728.3,30.9 728.6,30.6 729.0,29.5 729.3,30.0 729.6,32.9 729.9,33.8 730.2,30.6 730.5,30.6 730.8,31.2 731.1,33.2 731.4,29.2 731.7,32.3 732.1,29.5 732.4,31.9 732.7,30.3 733.0,29.4 733.3,31.3 733.6,32.0 733.9,31.0 734.2,30.9 734.5,33.2 734.8,29.8 735.2,30.0 735.5,29.6 735.8,31.1 736.1,31.9 736.4,33.0 736.7,31.3 737.0,31.9 737.3,29.6 737.6,34.1 737.9,33.0 738.3,33.9 738.6,33.6 738.9,31.7 739.2,30.2 739.5,32.5 739.8,32.5 740.1,31.7 740.4,29.8 740.7,33.5 741.0,30.9 741.4,31.2 741.7,32.5 742.0,33.8 742.3,31.2 742.6,32.2 742.9,29.8 743.2,30.7 743.5,31.6 743.8,29.3 744.1,33.3 744.5,30.5 744.8,30.9 745.1,33.9 745.4,32.6 745.7,30.0 746.0,30.3 746.3,29.6 746.6,29.6 746.9,30.4 747.2,32.0 747.6,29.7 747.9,30.8 748.2,32.1 748.5,29.9 748.8,33.6 749.1,31.8 749.4,31.0 749.7,31.5 750.0,29.4 750.3,32.7 750.7,30.7 751.0,33.1 751.3,30.9 751.6,31.3 751.9,33.9 752.2,30.3 752.5,30.9 752.8,31.7 753.1,33.6 753.4,30.5 753.8,29.2 754.1,31.9 754.4,31.9 754.7,29.3 755.0,30.3 755.3,31.5 755.6,30.7 755.9,30.8 756.2,29.8 756.5,32.0 756.9,28.9 757.2,32.0 757.5,32.5 757.8,29.1 758.1,29.6 758.4,33.6 758.7,31.4 759.0,31.1 759.3,30.7 759.6,31.6 760.0,33.9 760.3,30.7 760.6,33.5 760.9,31.8 761.2,32.1 761.5,31.7 761.8,30.9 762.1,31.6 762.4,33.9 762.7,29.6 763.1,33.2 763.4,32.5 763.7,33.1 764.0,31.8 764.3,33.6 764.6,29.3 764.9,29.8 765.2,32.2 765.5,32.8 765.8,33.4 766.2,31.2 766.5,30.8 766.8,32.1 767.1,31.0 767.4,33.4 767.7,30.6 768.0,32.6 768.3,32.3 768.6,31.0 768.9,32.0 769.3,31.6 769.6,30.7 769.9,33.6 770.2,33.6 770.5,30.8 770.8,30.8 771.1,31.5 771.4,29.8 771.7,30.8 772.0,30.3 772.4,29.9 772.7,29.9 773.0,29.8 773.3,32.7 773.6,32.9 773.9,30.5 774.2,29.6 774.5,32.5 774.8,33.5 775.1,33.1 775.5,33.8 775.8,31.4 776.1,29.3 776.4,30.1 776.7,29.4 777.0,32.4 777.3,31.0 777.6,30.7 777.9,30.7 778.2,30.5 778.6,33.8 778.9,31.0 779.2,31.5 779.5,29.4 779.8,33.9 780.1,29.2 780.4,33.0 780.7,31.4 781.0,32.6 781.3,33.4 781.7,33.5 782.0,33.5 782.3,32.4 782.6,31.8 782.9,30.9 783.2,30.4 783.5,30.1 783.8,33.0 784.1,30.9 784.4,33.5 784.8,31.1 785.1,30.6 785.4,33.2 785.7,29.7 786.0,31.5 786.3,32.1 786.6,29.2 786.9,32.6 787.2,31.3 787.5,32.4 787.9,30.2 788.2,30.2 788.5,29.9 788.8,31.8 789.1,30.5 789.4,30.9 789.7,33.0 790.0,32.0 790.3,34.1 790.6,33.1 791.0,32.5 791.3,33.9 791.6,31.0 791.9,31.9 792.2,31.7 792.5,32.6 792.8,32.7 793.1,31.6 793.4,33.4 793.7,33.1 794.1,32.5 794.4,30.7 794.7,34.5 795.0,33.8 795.3,34.3 795.6,32.8 795.9,34.3 796.2,33.3 796.5,33.9 796.8,33.3 797.2,34.8 797.5,34.2 797.8,34.1 798.1,34.7 798.4,34.8 798.7,35.2 799.0,35.7 799.3,36.1 799.6,36.6 799.9,37.4 800.3,37.5 800.6,38.2 800.9,38.7 801.2,39.3 801.5,39.8 801.8,40.5 802.1,41.2 802.4,41.8"/>
<polyline class="c b" style="stroke-width:0.8" points="572.3,30.3 572.7,31.2 573.2,32.4 573.6,31.3 574.0,28.5 574.4,27.0 574.9,30.7 575.3,28.3 575.7,31.0 576.2,31.7 576.6,30.4 577.0,36.7 577.5,30.2 577.9,32.9 578.3,31.4 578.7,31.9 579.2,31.9 579.6,31.0 580.0,32.8 580.5,32.8 580.9,30.9 581.3,32.4 581.8,30.2 582.2,26.3 582.6,32.4 583.0,32.1 583.5,32.4 583.9,33.0 584.3,32.6 584.8,28.4 585.2,31.0 585.6,30.6 586.1,32.8 586.5,30.9 586.9,31.3 587.3,31.5 587.8,31.8 588.2,31.7 588.6,32.4 589.1,32.4 589.5,32.8 589.9,31.9 590.4,32.4 590.8,32.6 591.2,32.7 591.6,34.6 592.1,32.3 592.5,32.3 592.9,31.6 593.4,31.2 593.8,31.9 594.2,32.4 594.7,30.4 595.1,30.3 595.5,30.6 595.9,30.0 596.4,30.4 596.8,31.5 597.2,30.7 597.7,30.4 598.1,30.8 598.5,32.8 599.0,32.9 599.4,30.7 599.8,32.8 600.2,30.6 600.7,36.9 601.1,30.0 601.5,30.1 602.0,30.1 602.4,31.7 602.8,32.0 603.3,28.3 603.7,36.5 604.1,30.2 604.5,31.7 605.0,30.3 605.4,32.7 605.8,32.8 606.3,31.5 606.7,27.6 607.1,32.7 607.6,31.1 608.0,32.5 608.4,27.5 608.8,32.6 609.3,30.6 609.7,31.2 610.1,30.7 610.6,30.3 611.0,32.4 611.4,30.4 611.9,32.8 612.3,31.8 612.7,30.2 613.1,32.1 613.6,31.5 614.0,31.4 614.4,32.9 614.9,32.3 615.3,32.3 615.7,30.4 616.2,30.7 616.6,31.8 617.0,32.9 617.4,30.9 617.9,30.0 618.3,30.3 618.7,31.5 619.2,30.4 619.6,32.2 620.0,30.6 620.5,32.6 620.9,32.2 621.3,32.4 621.7,30.2 622.2,32.9 622.6,31.7 623.0,30.2 623.5,27.8 623.9,31.9 624.3,31.7 624.8,26.4 625.2,30.1 625.6,30.9 626.0,32.5 626.5,30.2 626.9,32.6 627.3,32.3 627.8,31.7 628.2,31.0 628.6,32.9 629.1,31.3 629.5,30.4 629.9,30.2 630.3,30.7 630.8,31.5 631.2,30.1 631.6,35.0 632.1,30.3 632.5,30.5 632.9,31.1 633.4,31.2 633.8,30.2 634.2,31.8 634.6,32.8 635.1,32.0 635.5,32.5 635.9,30.5 636.4,30.8 636.8,30.7 637.2,30.7 637.7,31.9 638.1,27.7 638.5,31.9 638.9,30.3 639.4,30.0 639.8,32.8 640.2,32.9 640.7,32.6 641.1,31.6 641.5,30.2 642.0,30.9 642.4,30.5 642.8,32.7 643.2,32.7 643.7,32.2 644.1,27.7 644.5,32.0 645.0,30.9 645.4,30.5 645.8,31.8 646.3,31.0 646.7,30.9 647.1,31.7 647.5,30.5 648.0,30.0 648.4,34.4 648.8,31.8 649.3,32.5 649.7,32.4 650.1,31.9 650.6,31.9 651.0,31.7 651.4,30.7 651.8,32.6 652.3,32.9 652.7,30.0 653.1,32.8 653.6,32.7 654.0,30.5 654.4,35.9 654.9,28.5 655.3,31.9 655.7,31.6 656.1,30.5 656.6,27.6 657.0,32.6 657.4,31.3 657.9,30.9 658.3,32.4 658.7,31.2 659.2,31.3 659.6,32.5 660.0,27.5 660.4,30.3 660.9,31.4 661.3,31.2 661.7,31.6 662.2,32.8 662.6,30.7 663.0,30.2 663.5,32.8 663.9,32.7 664.3,34.6 664.7,30.7 665.2,30.3 665.6,31.0 666.0,31.7 666.5,32.2 666.9,30.5 667.3,30.5 667.8,31.7 668.2,26.9 668.6,31.7 669.0,27.7 669.5,31.9 669.9,30.6 670.3,31.4 670.8,30.3 671.2,35.5 671.6,30.6 672.1,32.9 672.5,32.3 672.9,31.4 673.3,31.7 673.8,31.0 674.2,31.8 674.6,34.9 675.1,31.5 675.5,31.0 675.9,30.7 676.4,30.4 676.8,32.9 677.2,30.1 677.6,32.9 678.1,30.8 678.5,32.5 678.9,32.2 679.4,32.6 679.8,32.8 680.2,31.9 680.7,30.1 681.1,32.8 681.5,31.5 681.9,33.0 682.4,30.3 682.8,26.7 683.2,30.5 683.7,36.5 684.1,31.1 684.5,26.4 685.0,32.5 685.4,32.2 685.8,30.0 686.2,35.6 686.7,30.5 687.1,32.2 687.5,32.3 688.0,30.7 688.4,27.4 688.8,30.1 689.3,30.7 689.7,32.9 690.1,32.6 690.5,30.7 691.0,31.8 691.4,30.6 691.8,35.6 692.3,32.2 692.7,30.8 693.1,30.3 693.6,26.5 694.0,31.1 694.4,30.1 694.8,36.7 695.3,32.4 695.7,31.8 696.1,32.0 696.6,32.2 697.0,32.0 697.4,35.6 697.9,31.7 698.3,31.6 698.7,30.7 699.1,32.3 699.6,31.2 700.0,30.8 700.4,31.5 700.9,32.2 701.3,32.8 701.7,30.0 702.2,32.3 702.6,31.4 703.0,32.3 703.4,31.6 703.9,32.9 704.3,32.8 704.7,36.9 705.2,32.0 705.6,32.2 706.0,30.7 706.5,31.6 706.9,31.8 707.3,31.4 707.7,32.9 708.2,32.7 708.6,31.0 709.0,32.4 709.5,31.1 709.9,32.2 710.3,30.2 710.8,32.0 711.2,32.3 711.6,32.8 712.0,32.3 712.5,35.8 712.9,32.9 713.3,31.2 713.8,32.2 714.2,30.9 714.6,30.7 715.1,30.5 715.5,31.6 715.9,31.0 716.3,28.0 716.8,30.8 717.2,34.5 717.6,32.8 718.1,31.4 718.5,34.4 718.9,33.0 719.4,32.1 719.8,31.3 720.2,30.5 720.6,30.3 721.1,31.3 721.5,32.5 721.9,31.8 722.4,30.5 722.8,30.6 723.2,31.5 723.7,31.1 724.1,30.5 724.5,34.6 724.9,32.6 725.4,31.9 725.8,31.3 726.2,36.2 726.7,32.5 727.1,35.6 727.5,32.9 728.0,31.4 728.4,31.0 728.8,26.7 729.2,32.9 729.7,31.1 730.1,32.8 730.5,32.2 731.0,32.2 731.4,30.6 731.8,31.8 732.3,32.2 732.7,31.2 733.1,31.1 733.5,30.9 734.0,31.4 734.4,31.4 734.8,32.0 735.3,32.0 735.7,31.0 736.1,32.6 736.6,30.9 737.0,28.0 737.4,34.3 737.8,30.8 738.3,30.1 738.7,30.7 739.1,30.1 739.6,31.5 740.0,36.7 740.4,32.4 740.9,32.1 741.3,32.7 741.7,32.3 742.1,31.0 742.6,31.3 743.0,30.5 743.4,32.6 743.9,30.1 744.3,36.7 744.7,32.5 745.2,30.7 745.6,31.3 746.0,32.1 746.4,32.1 746.9,32.6 747.3,31.8 747.7,27.9 748.2,31.9 748.6,31.3 749.0,31.5 749.5,31.4 749.9,31.7 750.3,32.3 750.7,32.5 751.2,32.1 751.6,34.5 752.0,30.7 752.5,26.8 752.9,32.1 753.3,31.8 753.8,32.1 754.2,27.4 754.6,28.5 755.0,31.3 755.5,32.9 755.9,30.2 756.3,27.6 756.8,31.4 757.2,30.8 757.6,30.6 758.1,30.4 758.5,35.8 758.9,31.3 759.3,27.2 759.8,31.4 760.2,31.0 760.6,32.8 761.1,33.0 761.5,32.7 761.9,31.7 762.4,33.0 762.8,32.4 763.2,32.0 763.6,32.7 764.1,32.3 764.5,32.0 764.9,30.8 765.4,35.5 765.8,32.1 766.2,30.1 766.7,31.3 767.1,32.7 767.5,31.7 767.9,32.0 768.4,26.8 768.8,32.1 769.2,32.7 769.7,31.6 770.1,32.2 770.5,32.5 771.0,31.5 771.4,30.1 771.8,32.1 772.2,30.7 772.7,30.4 773.1,30.8 773.5,32.7 774.0,30.7 774.4,35.4 774.8,32.9 775.3,30.7 775.7,31.1 776.1,31.9 776.5,30.7 777.0,32.3 777.4,30.5 777.8,32.9 778.3,30.3 778.7,30.6 779.1,31.0 779.6,32.1 780.0,27.8 780.4,30.9 780.8,30.8 781.3,30.2 781.7,35.0 782.1,32.1 782.6,32.5 783.0,30.7 783.4,30.5 783.9,31.0 784.3,35.9 784.7,32.6 785.1,30.1 785.6,31.2 786.0,31.8 786.4,32.1 786.9,30.6 787.3,30.4 787.7,30.2 788.2,32.3 788.6,36.0 789.0,32.0 789.4,31.0 789.9,31.7 790.3,33.0 790.7,32.6 791.2,31.1 791.6,31.8 792.0,31.9 792.5,31.4 792.9,32.4 793.3,32.6 793.7,32.3 794.2,32.4 794.6,31.5 795.0,33.9 795.5,33.0 795.9,30.1 796.3,32.7 796.8,34.0 797.2,35.6 797.6,34.8 798.0,35.2 798.5,35.0 798.9,35.8 799.3,36.9 799.8,37.1 800.2,37.5 800.6,38.3"/>
<polyline class="c b" style="stroke-width:1.1" points="802.5,42.0 805.0,49.0 808.5,61.0 811.0,70.0 813.6,80.5 817.1,94.3 820.7,104.3 824.0,110.5 827.1,115.7 830.0,119.5 832.9,121.7 868.6,134.6 869.0,140.0 870.0,164.3"/>
<polyline class="c g"  points="117.0,636.2 117.6,635.8 118.2,635.9 118.8,636.3 119.4,636.2 120.0,635.7 120.6,635.8 121.2,635.9 121.8,636.0 122.4,636.3 123.0,636.3 123.6,636.3 124.2,635.5 124.8,635.8 125.4,635.8 126.0,635.6 126.6,635.6 127.2,636.4 127.8,635.6 128.4,635.9 129.0,635.9 129.6,635.6 130.2,635.9 130.8,636.4 131.4,635.6 132.0,636.0 132.6,635.7 133.2,636.0 133.8,635.9 134.4,636.3 135.0,636.3 135.6,635.9 136.2,635.8 136.8,636.1 137.4,635.7 138.0,636.0 138.6,636.2 139.2,636.1 139.8,635.6 140.4,636.0 141.0,635.5 141.6,636.1 142.2,635.9 142.8,635.7 143.4,636.4 144.0,636.0 144.6,636.4 145.2,636.3 145.8,636.0 146.4,636.3 147.0,635.6 147.6,636.0 148.2,635.8 148.8,635.9 149.4,635.9 150.0,635.6 150.6,635.6 151.2,636.3 151.8,635.7 152.4,635.8 153.0,635.5 153.6,636.3 154.2,635.9 154.8,636.2 155.4,636.4 156.0,636.1 156.6,636.0 157.2,636.0 157.8,636.2 158.4,636.2 159.0,636.3 159.6,636.1 160.2,636.4 160.8,635.8 161.4,635.7 162.0,636.4 162.6,635.8 163.2,636.3 163.8,635.8 167.0,637.5 170.0,640.0 173.0,644.0 176.0,650.0 178.0,654.0 179.5,656.0 181.0,657.2 185.0,658.3 195.0,659.2 216.5,660.0 216.9,489.3 217.2,497.0 217.6,506.0 218.5,513.0 220.0,517.0 221.4,520.0 221.8,472.1 222.5,475.5 223.0,475.8 223.5,475.3 224.0,474.8 224.5,475.1 225.0,476.3 225.5,475.7 226.0,475.6 226.5,474.8 227.0,474.9 227.5,475.3 228.0,475.0 228.5,475.8 229.0,475.9 229.5,475.4 230.0,474.7 230.5,476.2 231.0,475.9 231.5,476.2 232.0,476.1 232.5,475.4 233.0,476.0 233.5,474.8 234.0,474.8 234.5,474.8 235.0,475.6 235.5,475.6 236.0,474.9 236.5,476.2 237.0,475.1 238.0,476.4 238.5,476.4 239.0,476.9 239.5,477.0 240.0,478.0 240.5,478.4 241.0,479.5 241.5,479.4 242.0,479.7 242.5,480.6 243.0,481.6 243.5,481.3 244.0,481.7 244.5,482.8 245.0,483.0 245.5,483.5 246.0,483.2 246.5,484.6 247.0,484.2 247.5,484.7 248.0,485.2 248.5,485.0 249.0,485.6 249.5,486.2 250.0,486.5 250.5,487.1 251.0,486.5 251.5,487.6 252.0,487.9 252.5,487.6 253.0,488.0 253.5,487.8 254.0,488.0 254.5,488.6 255.0,488.7 255.5,489.3 256.0,488.6 256.5,488.8 257.0,489.9 257.5,489.4 258.0,489.9 258.5,489.7 259.0,489.7 259.5,490.0 260.0,490.5 260.5,490.7 261.0,490.5 261.5,490.3 262.0,491.3 262.5,491.4 263.0,490.9 263.5,491.2 264.0,491.2 264.5,492.3 265.0,492.3 265.5,491.7 266.0,491.7 266.5,492.6 267.0,492.4 267.5,492.4 268.0,493.1 268.5,492.5 269.0,492.9 269.5,493.1 270.0,492.7 270.5,493.8 271.0,493.5 271.5,493.3 272.0,493.2 272.5,493.9 273.0,494.2 273.5,494.0 274.0,494.8 274.5,494.6 275.0,494.3 275.5,494.8 276.0,494.3 276.5,495.4 277.0,494.5 277.5,495.0 278.0,495.6 278.5,495.0 279.0,495.1 279.5,495.4 280.0,495.4 280.3,495.2 280.8,495.6 281.2,495.4 281.6,495.7 282.1,496.6 282.5,495.5 283.0,495.3 283.4,497.3 283.9,498.0 284.3,497.9 284.8,496.1 285.2,496.5 285.7,497.4 286.1,498.0 286.6,496.9 287.0,497.4 287.5,498.6 287.9,497.6 288.4,497.1 288.8,497.8 289.3,497.4 289.7,497.0 290.2,497.3 290.6,497.3 291.1,498.8 291.5,499.3 292.0,498.7 292.4,497.5 292.9,499.7 293.3,498.6 293.8,498.3 294.2,499.8 294.7,500.2 295.1,499.3 295.6,500.1 296.0,499.1 296.5,498.9 296.9,498.9 297.4,500.2 297.8,499.3 298.3,500.9 299.0,404.3 299.3,422.0 299.5,423.7 299.8,422.1 300.1,420.9 300.4,422.7 300.7,423.6 301.0,424.0 301.3,421.2 301.6,421.0 301.9,423.7 302.2,421.5 302.5,422.1 302.8,421.5 303.1,424.4 303.4,424.0 303.7,421.4 304.0,422.3 304.3,423.5 304.6,424.5 304.9,421.1 305.2,422.7 305.5,420.6 305.8,421.1 306.1,420.7 306.4,423.6 306.7,424.4 307.0,424.2 307.3,420.9 307.6,421.9 307.9,424.0 308.2,422.2 308.5,424.3 308.8,421.9 309.1,423.2 309.4,423.1 309.7,421.7 310.0,420.7 310.3,423.0 310.6,422.9 310.9,423.6 311.2,422.8 311.5,422.3 311.8,422.8 312.1,422.1 312.4,424.3 312.7,423.9 313.0,424.4 313.3,421.1 313.6,422.3 313.9,422.3 314.2,421.7 314.5,420.9 314.8,422.6 315.1,424.5 315.4,423.5 315.7,424.1 316.0,424.0 316.3,424.5 316.6,424.4 316.9,422.6 317.2,424.4 317.5,423.6 317.8,421.9 318.1,422.4 318.4,420.9 318.7,423.6 319.0,422.9 319.3,422.5 319.6,422.4 319.9,422.3 320.2,423.6 320.5,421.7 320.8,420.7 321.1,421.7 321.4,422.6 321.7,420.7 322.0,422.7 322.3,422.0 322.6,424.4 322.9,420.7 323.2,423.5 323.5,421.4 323.8,423.4 324.1,423.4 324.4,422.5 324.7,423.0 325.0,640.0 325.3,650.0 326.5,655.0 328.0,658.0 331.0,659.3 340.0,659.7 389.8,659.7"/>
<polyline class="c g"  points="390.4,634.0 390.8,492.6 391.3,505.0 391.8,515.0 392.6,519.7 393.1,519.3 393.6,519.6 394.1,519.8 394.6,519.8 395.1,520.7 395.6,520.8 396.1,520.9 396.6,521.8 397.1,521.3 397.6,521.2 398.1,522.6 398.6,522.0 399.1,521.6 399.6,522.5 400.1,521.7 400.6,521.7 401.1,521.8 401.6,522.7 402.1,522.8 402.6,523.2 403.1,522.3 403.6,522.6 404.1,522.5 404.6,523.6 405.1,522.6 405.6,522.5 406.1,522.9 406.6,523.5 407.1,523.0 407.6,523.5 408.1,523.3 408.6,523.5 409.1,524.0 409.6,524.3 410.1,523.7 410.6,524.1 411.1,524.3 411.6,524.3 412.1,523.7 412.6,523.8 413.1,523.8 413.6,525.1 414.1,524.3 414.6,524.4 415.1,525.1 415.6,525.2 416.1,524.5 416.6,525.6 417.1,525.1 417.6,524.4 418.1,524.4 418.6,525.6 419.1,525.1 419.6,524.7 420.1,524.9 420.6,526.0 421.1,525.5 421.6,525.7 422.1,525.2 422.6,525.7 423.1,525.8 423.6,525.7 424.1,525.4 424.6,525.3 425.1,525.2 425.6,525.8 426.1,526.6 426.6,525.6 427.1,525.6 427.6,526.1 428.1,525.8 428.6,526.9 429.1,525.6 429.6,526.1 430.1,526.0 430.6,526.9 431.1,525.7 431.6,527.0 432.1,526.3 432.6,525.9 433.1,527.1 433.6,527.2 434.1,527.1 434.6,526.0 435.1,527.1 435.6,526.3 436.1,526.8 436.6,526.6 437.1,526.6 437.6,527.6 438.1,527.5 438.6,527.5 439.1,526.8 439.6,527.5 440.1,526.6 440.6,527.5 441.1,527.0 441.6,527.9 442.1,527.7 442.6,527.3 443.1,527.5 443.6,527.3 444.1,527.6 444.6,527.0 445.1,527.7 445.6,527.9 446.1,528.3 446.6,527.5 447.1,527.7 447.6,528.0 448.1,528.0 448.6,527.9 449.1,527.6 449.6,527.3 450.1,528.6 450.6,527.5 451.1,528.1 451.6,527.7 452.1,527.6 452.6,527.7 453.1,528.8 453.6,527.8 454.1,528.0 454.6,527.7 455.1,527.7 455.6,528.0 456.1,528.5 456.6,528.4 457.1,528.4 457.6,529.0 458.1,528.8 458.6,528.4 459.1,528.9 459.6,528.9 460.1,528.2 460.6,528.8 461.1,529.4 461.6,529.1 462.1,528.5 462.6,529.0 463.1,528.9 463.6,529.4 464.1,528.7 464.6,529.2 465.1,529.3 465.6,528.7 466.1,528.5 466.6,528.8 467.1,529.7 467.6,529.2 468.1,528.7 468.6,529.3 469.1,529.5 469.6,529.2 470.1,529.7 470.6,530.2 471.1,529.2 471.6,529.6 472.1,529.9 472.6,529.7 473.1,530.2 473.6,529.5 474.1,528.9 474.6,530.2 475.1,529.4 475.6,529.4 476.1,529.6 476.6,530.2 477.1,528.8 477.6,529.1 478.1,528.9 478.6,529.8 479.1,529.0 479.6,529.6 480.1,529.2 480.6,529.1 481.1,528.9 481.6,529.0 482.1,529.3 482.6,528.4 483.1,528.6 483.6,529.3 484.5,530.2 484.9,528.6 485.3,528.8 485.7,529.3 486.1,530.3 486.5,530.1 486.9,527.6 487.3,528.4 487.7,528.4 488.1,527.3 488.5,527.6 488.9,527.7 489.3,528.2 489.7,528.0 490.1,528.7 490.5,527.6 490.9,528.8 491.3,525.9 491.7,528.2 492.1,527.5 492.5,528.5 492.9,526.0 493.3,526.2 493.7,528.2 494.1,526.2 494.5,526.9 494.9,528.5 495.3,527.4 495.7,526.2 496.1,528.4 496.5,526.6 496.9,526.3 497.3,526.8 497.7,527.9 498.1,525.8 498.5,527.9 498.9,528.8 499.3,526.0 499.7,526.8 500.1,528.8 500.5,528.0 500.9,528.4 501.3,527.6 501.7,526.8 502.1,526.1 502.5,528.5 503.4,528.0 503.6,635.3"/>
<polyline class="c g"  points="503.6,641.8 503.8,650.6 505.6,657.6 506.9,653.0 508.6,627.7 510.3,618.6 510.9,635.7 511.0,658.6 512.6,656.3 515.4,649.4 518.9,635.7 521.1,622.0 522.9,614.6 524.6,620.9 526.9,628.9 530.3,635.7 534.9,640.9 540.6,644.9 548.6,648.3 556.6,650.4 565.0,652.3 576.8,654.0 604.0,656.4 636.0,658.0 700.0,659.2 790.0,660.2 832.0,660.4"/>
<polyline class="c r"  points="176.3,650.0 178.0,654.0 179.5,656.0 181.0,657.2 185.0,658.3 195.0,659.2 216.5,660.0"/>
<polyline class="c r"  points="325.4,650.0 326.5,655.0 328.0,658.0 331.0,659.3 340.0,659.7 389.8,659.7"/>
<polyline class="c r"  points="503.8,650.4 504.6,654.5 505.6,657.6 506.3,655.5 506.9,653.0"/>
<polyline class="c r"  points="511.0,658.6 512.6,656.3 515.4,649.4"/>
<polyline class="c r"  points="556.8,650.5 576.8,652.9 604.0,655.6 636.0,657.5 700.0,658.8 790.0,660.0 832.0,660.3"/>
<polyline class="c m" style="opacity:0.22" points="117.5,660.3 191.5,660.3"/>
<polyline class="c b" style="opacity:0.15" points="117.5,660.3 171.6,660.2"/>
<polyline class="c b"  points="171.6,660.2 177.8,659.0 178.6,655.3 191.0,655.3 192.2,655.8 206.6,655.9 216.7,652.5 225.0,649.9 227.1,648.4 232.4,644.0 236.1,637.3 239.7,627.1 246.1,618.8 253.2,607.1 258.6,596.4 262.9,590.0 268.6,584.0 274.3,581.1 279.3,580.3 279.7,575.0 281.7,560.0 285.7,511.0 287.1,504.3 289.3,494.3 292.1,484.3 295.0,477.9 297.0,475.3 298.6,474.6 301.4,477.9 305.7,481.4 312.9,484.0 324.7,486.4 327.1,482.9 331.4,481.4 337.1,481.9 350.0,483.8 375.7,486.0 377.9,487.9 379.3,490.3 380.7,488.3 383.6,486.6 390.0,486.3 392.9,487.9 397.1,488.6 450.0,489.0 504.0,489.2 504.8,488.3 505.2,492.0 505.4,520.0 506.2,600.0 508.0,626.6 510.0,627.1 510.1,647.1 510.9,652.3 514.3,654.6 518.9,655.7 566.9,655.7 573.7,656.9 580.0,657.8 604.0,657.9 636.0,658.4 670.0,659.0 700.0,659.3 790.0,659.8 832.0,660.2"/>
<polyline class="c b" style="stroke-width:1.3" points="511.0,653.5 513.5,651.0 513.5,654.5 511.0,653.5"/>
<polyline class="c m"  points="191.5,660.3 191.6,655.0 206.0,655.0 216.7,651.6 225.0,649.0 227.1,647.5 232.1,643.2 235.7,636.7 239.3,626.5 245.7,618.6 252.9,607.5 258.6,599.3 262.9,593.1 268.6,587.9 274.3,585.4 279.3,585.0 280.0,575.0 281.7,560.0 285.7,498.6 287.1,490.0 290.0,461.4 292.9,437.1 295.7,415.7 297.1,410.0 298.6,407.4 300.0,413.6 302.1,421.4 305.0,427.9 309.3,433.6 315.7,438.6 324.7,444.0 325.7,437.1 327.1,432.1 329.3,428.9 332.9,427.9 337.1,429.3 342.9,432.6 350.0,435.2 358.6,437.6 370.0,439.6 376.4,440.7 376.7,459.3 377.5,446.0 378.4,452.0 379.3,464.6 380.7,448.6 382.9,442.9 385.7,441.4 389.7,441.4 391.4,445.0 394.3,447.1 398.6,447.9 420.0,448.3 450.0,449.3 503.0,449.6 503.8,448.0 504.7,447.2 505.3,452.0 505.6,520.0 506.5,590.0 507.4,612.9 508.6,624.3 510.3,627.7 512.0,635.7 514.3,643.7 517.7,649.4 522.3,653.2 528.0,654.3 566.9,654.3 573.7,655.7 580.0,657.5 604.0,657.7 636.0,658.2 670.0,658.9 700.0,659.3 790.0,660.0 832.0,660.4"/>
<polyline class="c b" style="stroke-width:1.0" points="572.8,659.7 573.3,658.1 573.9,657.3 574.4,657.0 575.0,657.5 575.5,657.9 576.1,658.0 576.6,657.3 577.2,657.0 577.7,659.4 578.3,659.1 578.8,657.6 579.4,657.9 579.9,659.1"/>
<polyline class="c b" style="stroke-width:1.0" points="574.0,658.4 574.6,658.9 575.2,658.7 575.8,658.8 576.4,659.6 577.0,659.2 577.6,658.4 578.2,658.7 578.8,659.3 579.4,659.2"/>
<text transform="translate(19.2,168.5) rotate(-90)" text-anchor="middle" style="letter-spacing:0.30px">filament resistance [Ω]</text>
<text transform="translate(993.0,167.6) rotate(-90)" text-anchor="middle" style="letter-spacing:0.20px">substrate resistance [kΩ]</text>
<text transform="translate(43.2,517.8) rotate(-90)" text-anchor="middle" style="letter-spacing:0.22px">temperature sensors [kΩ]</text>
<text transform="translate(958.0,517.0) rotate(-90)" text-anchor="middle" style="letter-spacing:0.30px">cell pressure [hPa]</text>
<text x="785.7" y="48.0" text-anchor="end" style="letter-spacing:0.2px">substrate resistance</text>
<line class="c b" style="stroke-width:1.1" x1="797" y1="41.5" x2="848.8" y2="41.5"/>
<text x="785.7" y="67.7" text-anchor="end" style="letter-spacing:0.2px">filament 1</text>
<line class="c g" style="stroke-width:1.1" x1="797" y1="61.2" x2="848.8" y2="61.2"/>
<text x="785.7" y="87.0" text-anchor="end" style="letter-spacing:0.2px">filament 2</text>
<line class="c m" style="stroke-width:1.1" x1="797" y1="80.5" x2="848.8" y2="80.5"/>
<text x="785.7" y="398.1" text-anchor="end" style="letter-spacing:0.2px">panel pressure</text>
<line class="c g" style="stroke-width:1.1" x1="797" y1="391.6" x2="848.8" y2="391.6"/>
<text x="785.7" y="417.6" text-anchor="end" style="letter-spacing:0.2px">baratron pressure</text>
<line class="c r" style="stroke-width:1.1" x1="797" y1="411.1" x2="848.8" y2="411.1"/>
<text x="785.7" y="436.9" text-anchor="end" style="letter-spacing:0.2px">bath temperature</text>
<line class="c b" style="stroke-width:1.1" x1="797" y1="430.4" x2="848.8" y2="430.4"/>
<text x="785.7" y="456.5" text-anchor="end" style="letter-spacing:0.2px">cell temperature</text>
<line class="c m" style="stroke-width:1.1" x1="797" y1="450.0" x2="848.8" y2="450.0"/>
</svg></body></html>
